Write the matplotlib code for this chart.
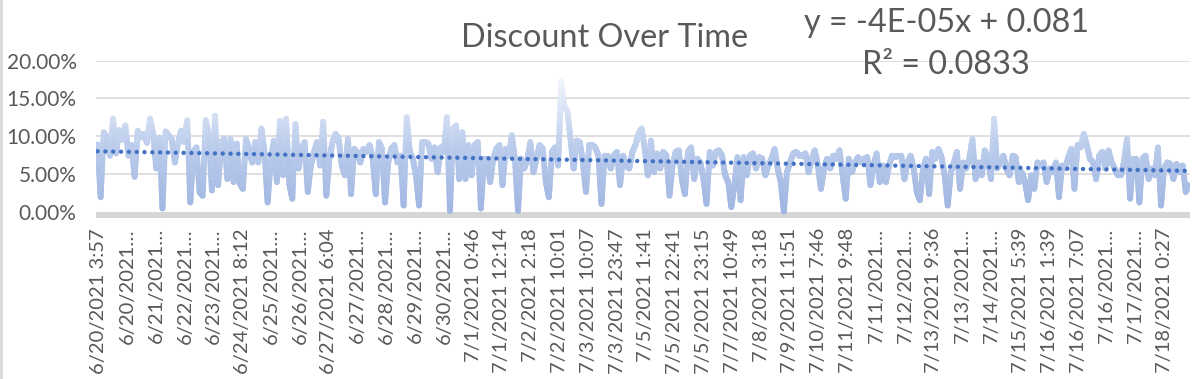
import numpy as np
import matplotlib
matplotlib.use("Agg")
import matplotlib.pyplot as plt
from matplotlib.collections import LineCollection
from matplotlib.colors import LinearSegmentedColormap, Normalize
from matplotlib.lines import Line2D

#%%----- data (discount in %) --------------------------------------------------
discount_pct = [
    # 6/20 - 6/24
    8.9, 1.9, 10.5, 9.8, 7.4, 12.3, 7.7, 10.8, 9.5, 11.4, 7.4, 8.8, 4.6,
    10.7, 9.8, 10.3, 9.1, 12.3, 10.2, 5.7, 9.8, 0.4, 10.6, 10.1, 9.6, 6.5, 9.0, 10.7,
    9.2, 12.1, 1.2, 7.9, 8.5, 2.6, 2.1, 12.1, 10.1, 2.8, 12.7, 3.5, 9.2, 9.6, 4.3, 9.6,
    3.9, 9.0, 3.7, 3.0, 9.6, 8.3, 6.5, 9.2, 6.5, 11.0, 7.9, 1.2, 6.5, 9.4, 3.9, 12.0,
    # 6/25 - 6/30
    4.8, 12.3, 3.7, 1.7, 11.6, 5.7, 8.3, 9.2, 2.6, 6.1, 7.9, 9.2, 6.1, 11.9, 2.1, 7.0,
    9.2, 10.3, 9.6, 6.1, 4.8, 9.6, 2.3, 8.3, 7.9, 6.5, 8.3, 7.9, 8.8, 7.0, 2.3, 9.2,
    8.3, 1.2, 6.5, 8.3, 8.8, 6.5, 7.4, 0.8, 12.5, 7.9, 7.0, 4.8, 0.8, 9.2, 9.2, 9.0,
    7.0, 8.5, 5.2, 8.5, 7.9, 12.5, 0.1, 11.0, 11.4, 4.3,
    # 7/1 - 7/5
    10.5, 4.3, 8.8, 4.8, 8.8, 9.2, 0.4, 7.0, 7.0, 3.9, 7.0, 8.3, 8.8, 3.5, 8.3, 7.4,
    10.1, 7.0, 0.1, 7.0, 5.7, 6.8, 9.2, 5.2, 7.0, 8.8, 8.3, 3.9, 1.9, 7.9, 8.5, 6.1,
    17.2, 13.9, 13.2, 9.6, 5.7, 9.4, 9.2, 6.5, 2.6, 8.8, 8.8, 8.5, 7.4, 1.0, 7.4, 7.4,
    5.7, 7.4, 7.9, 3.5, 7.4, 6.1, 5.7, 7.9, 8.8, 10.3, 11.0, 8.3, 4.8,
    # 7/5 - 7/10
    9.4, 5.2, 7.7, 5.7, 7.9, 7.4, 2.1, 6.1, 7.9, 8.1, 4.3, 2.3, 7.9, 8.5, 4.3, 7.0,
    6.5, 4.3, 1.0, 7.9, 6.1, 7.9, 8.1, 7.4, 4.8, 3.9, 0.6, 3.5, 7.2, 1.5, 7.2, 4.8,
    7.4, 7.7, 5.7, 7.2, 7.0, 4.8, 6.1, 7.0, 8.3, 5.7, 3.9, 0.0, 5.2, 6.5, 7.7, 7.9,
    7.4, 7.4, 7.7, 5.2, 7.0, 8.1, 6.1, 3.0, 5.7, 7.0, 5.7, 7.4,
    # 7/10 - 7/14
    7.0, 8.1, 4.8, 1.7, 7.0, 5.2, 6.5, 7.2, 6.5, 7.0, 7.2, 3.5, 6.1, 7.7, 3.9, 6.1,
    3.9, 6.1, 7.4, 7.2, 7.4, 7.4, 4.3, 6.5, 7.4, 5.7, 2.6, 1.5, 5.7, 7.0, 2.3, 7.9,
    7.0, 8.3, 7.2, 4.8, 0.8, 5.2, 6.5, 7.9, 3.0, 6.5, 5.7, 7.0, 9.6, 4.3, 6.5, 4.8,
    8.1, 7.0, 4.3, 12.3, 5.7, 6.5, 7.4, 5.7, 4.8, 7.4,
    # 7/14 - 7/18
    7.2, 3.9, 5.2, 3.9, 1.5, 4.8, 3.0, 6.5, 6.1, 6.5, 3.9, 5.7, 5.2, 6.5, 1.9, 6.1,
    5.7, 7.2, 8.3, 3.0, 8.8, 8.5, 10.3, 8.8, 7.0, 6.5, 4.3, 7.4, 7.9, 5.7, 8.1, 6.5,
    5.7, 4.8, 4.8, 6.5, 9.6, 1.7, 7.0, 7.0, 1.2, 7.0, 7.4, 4.3, 5.7, 4.8, 8.5, 0.8,
    5.7, 6.5, 6.3, 4.3, 6.3, 5.2, 6.1, 2.6, 3.5,
]

tick_labels = [
    "6/20/2021 3:57", "6/20/2021…", "6/21/2021…", "6/22/2021…", "6/23/2021…",
    "6/24/2021 8:12", "6/25/2021…", "6/26/2021…", "6/27/2021 6:04", "6/27/2021…",
    "6/28/2021…", "6/29/2021…", "6/30/2021…", "7/1/2021 0:46", "7/1/2021 12:14",
    "7/2/2021 2:18", "7/2/2021 10:01", "7/3/2021 10:07", "7/3/2021 23:47",
    "7/5/2021 1:41", "7/5/2021 22:41", "7/5/2021 23:15", "7/7/2021 10:49",
    "7/8/2021 3:18", "7/9/2021 11:51", "7/10/2021 7:46", "7/11/2021 9:48",
    "7/11/2021…", "7/12/2021…", "7/13/2021 9:36", "7/13/2021…", "7/14/2021…",
    "7/15/2021 5:39", "7/16/2021 1:39", "7/16/2021 7:07", "7/16/2021…",
    "7/17/2021…", "7/18/2021 0:27",
]

title = "Discount Over Time"
eq_text = "y = -4E-05x + 0.081"
r2_text = "R² = 0.0833"

#%%----- figure ----------------------------------------------------------------
plt.rcParams['font.family'] = ['Lato', 'DejaVu Sans']
grey = '#595959'

y = np.array(discount_pct)
x = np.arange(len(y))

fig = plt.figure(figsize=(12, 3.79), dpi=100)
ax = fig.add_axes([0.08, 0.424, 0.912, 0.416])

# gradient line: split each step in small pieces coloured by height
cmap = LinearSegmentedColormap.from_list('disc', ['#9fb5e1', '#bccdec', '#f3f6fc'])
norm = Normalize(0, 17.5)
segs, vals = [], []
t = np.linspace(0, 1, 13)
for i in range(len(y) - 1):
    xs = x[i] + (x[i + 1] - x[i]) * t
    ys = y[i] + (y[i + 1] - y[i]) * t
    for k in range(len(t) - 1):
        segs.append([(xs[k], ys[k]), (xs[k + 1], ys[k + 1])])
        vals.append((ys[k] + ys[k + 1]) / 2)
lc = LineCollection(segs, colors=cmap(norm(np.array(vals))), linewidths=4.2,
                    capstyle='round', joinstyle='round', zorder=3)
ax.add_collection(lc)

# linear trendline
coef = np.polyfit(x, y, 1)
ax.plot(x, np.polyval(coef, x), color='#4472C4', lw=3.2, ls=(0, (0.01, 1.75)),
        dash_capstyle='round', zorder=4)

ax.axhspan(-0.9, 0, color='#d6d6d6', zorder=2, lw=0)
for g in [5, 10, 15, 20]:
    ax.axhline(g, color='#d9d9d9', lw=1.2, zorder=1)

ax.set_xlim(-0.5, len(y) - 0.5)
ax.set_ylim(-0.9, 20)
ax.set_yticks([0, 5, 10, 15, 20])
ax.set_yticklabels(['%.2f%%' % v for v in [0, 5, 10, 15, 20]], fontsize=15, color=grey)

step = len(y) * 28.8 / 1094
pos = 0.3 + step * np.arange(len(tick_labels))
ax.set_xticks(pos)
ax.set_xticklabels(tick_labels, rotation=90, fontsize=14.5, color=grey)
ax.tick_params(axis='both', length=0)
ax.tick_params(axis='x', pad=7)
ax.tick_params(axis='y', pad=14)
for s in ax.spines.values():
    s.set_visible(False)

fig.text(605 / 1200, 1 - 47 / 379, title, ha='center', va='baseline', fontsize=23.3, color=grey)
fig.text(947 / 1200, 1 - 32 / 379, eq_text, ha='center', va='baseline', fontsize=23.3, color=grey)
fig.text(946 / 1200, 1 - 74 / 379, r2_text, ha='center', va='baseline', fontsize=23.3, color=grey)

fig.add_artist(Line2D([0.001, 0.001], [0, 1], color='#d9d9d9', lw=2, transform=fig.transFigure))

plt.savefig('out.png', dpi=100)
